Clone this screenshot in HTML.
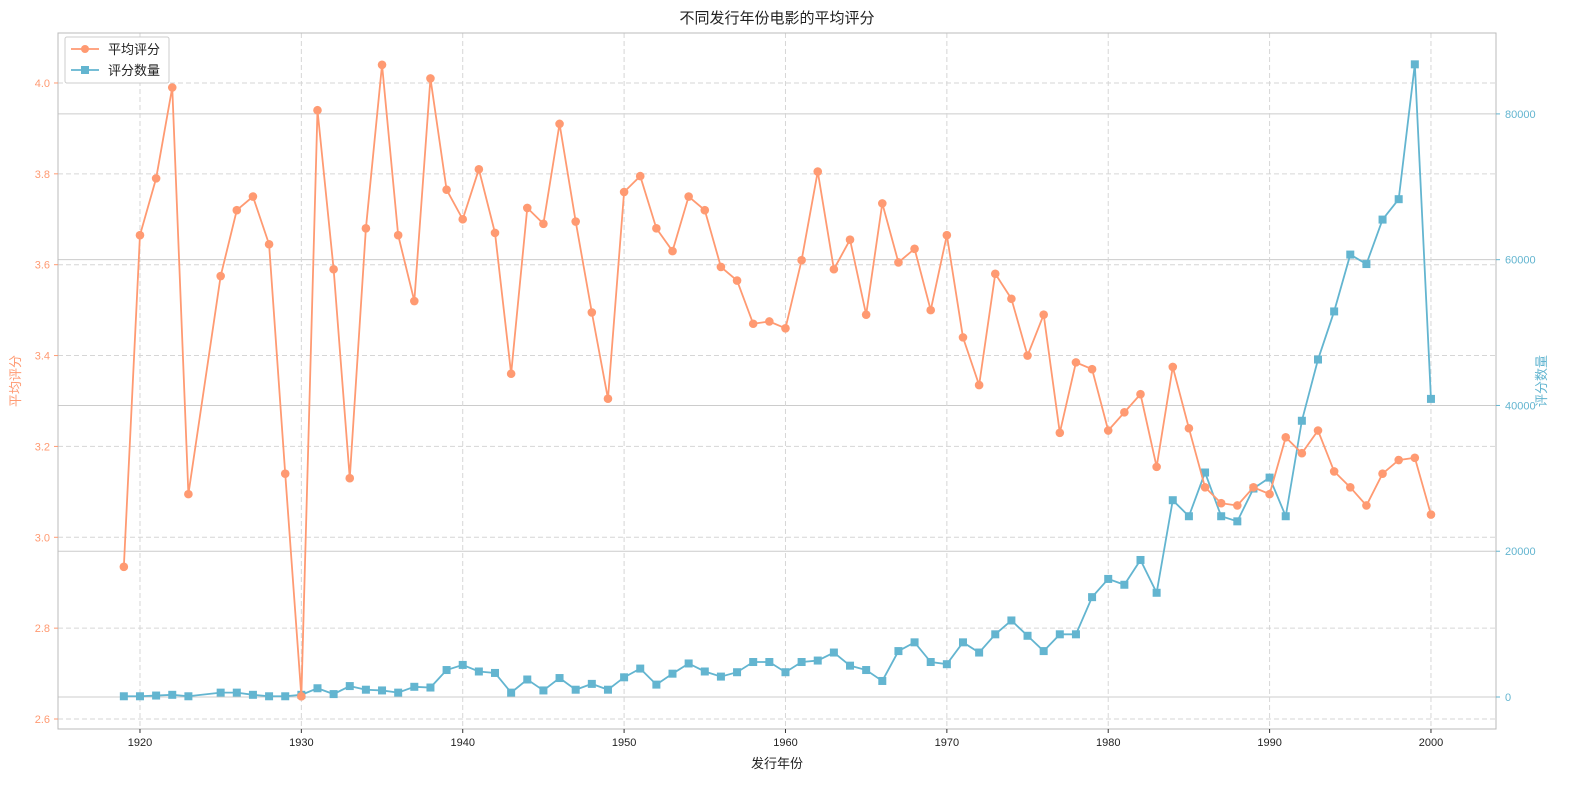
<!DOCTYPE html>
<html><head><meta charset="utf-8">
<style>
body{margin:0;background:#fff;}
svg{display:block;font-family:"Liberation Sans","Noto Sans CJK SC",sans-serif;}
</style></head>
<body>
<svg id="chart" width="1590" height="790" xmlns="http://www.w3.org/2000/svg">
<text x="777" y="23" text-anchor="middle" font-size="15" fill="#222">不同发行年份电影的平均评分</text>
<text x="777" y="768" text-anchor="middle" font-size="13" fill="#222">发行年份</text>
<text transform="translate(20,381) rotate(-90)" text-anchor="middle" font-size="13" fill="#ff9a72">平均评分</text>
<text transform="translate(1546,381) rotate(-90)" text-anchor="middle" font-size="13" fill="#63b5d0">评分数量</text>
<g id="grid"></g>
<g id="plot"></g>
<rect x="58" y="33" width="1438" height="696" fill="none" stroke="#bbb" stroke-width="1"/>
<g id="axes"></g>
<g>
<rect x="65" y="37" width="104" height="46" fill="#fff" stroke="#ccc" rx="2"/>
<line x1="71" y1="49" x2="99" y2="49" stroke="#ff9a72" stroke-width="1.8"/>
<circle cx="85" cy="49" r="4" fill="#ff9a72"/>
<text x="108" y="54" font-size="13" fill="#222">平均评分</text>
<line x1="71" y1="70" x2="99" y2="70" stroke="#63b5d0" stroke-width="1.8"/>
<rect x="81" y="66" width="8" height="8" fill="#63b5d0"/>
<text x="108" y="75" font-size="13" fill="#222">评分数量</text>
</g>
</svg>
<script>
const years=[1919,1920,1921,1922,1923,1925,1926,1927,1928,1929,1930,1931,1932,1933,1934,1935,1936,1937,1938,1939,1940,1941,1942,1943,1944,1945,1946,1947,1948,1949,1950,1951,1952,1953,1954,1955,1956,1957,1958,1959,1960,1961,1962,1963,1964,1965,1966,1967,1968,1969,1970,1971,1972,1973,1974,1975,1976,1977,1978,1979,1980,1981,1982,1983,1984,1985,1986,1987,1988,1989,1990,1991,1992,1993,1994,1995,1996,1997,1998,1999,2000];
const ratings=[2.935,3.665,3.79,3.99,3.095,3.575,3.72,3.75,3.645,3.14,2.65,3.94,3.59,3.13,3.68,4.04,3.665,3.52,4.01,3.765,3.70,3.81,3.67,3.36,3.725,3.69,3.91,3.695,3.495,3.305,3.76,3.795,3.68,3.63,3.75,3.72,3.595,3.565,3.47,3.475,3.46,3.61,3.805,3.59,3.655,3.49,3.735,3.605,3.635,3.50,3.665,3.44,3.335,3.58,3.525,3.40,3.49,3.23,3.385,3.37,3.235,3.275,3.315,3.155,3.375,3.24,3.11,3.075,3.07,3.11,3.095,3.22,3.185,3.235,3.145,3.11,3.07,3.14,3.17,3.175,3.05];
const counts=[100,100,200,300,100,600,600,300,100,100,300,1200,400,1500,1000,900,600,1400,1300,3700,4400,3500,3300,600,2400,900,2600,1000,1800,1000,2700,3900,1700,3200,4600,3500,2800,3400,4800,4800,3400,4800,5000,6100,4300,3700,2200,6300,7500,4800,4500,7500,6100,8600,10500,8400,6300,8600,8600,13700,16200,15400,18800,14300,27000,24800,30800,24800,24100,28600,30100,24800,37900,46300,52900,60700,59400,65500,68300,86800,40900];
const xTicks=[1920,1930,1940,1950,1960,1970,1980,1990,2000];
const leftTicks=[2.6,2.8,3.0,3.2,3.4,3.6,3.8,4.0];
const rightTicks=[0,20000,40000,60000,80000];

const L=58,R=1496,T=33,B=729;
const x=v=>L+(v-1914.92)/(2004.03-1914.92)*(R-L);
const yL=v=>T+(4.11-v)/(4.11-2.578)*(B-T);
const yR=v=>T+(91100-v)/(91100+4390)*(B-T);
const NS="http://www.w3.org/2000/svg";
function mk(tag,attrs,parent){const e=document.createElementNS(NS,tag);for(const k in attrs)e.setAttribute(k,attrs[k]);parent.appendChild(e);return e;}
const grid=document.getElementById('grid'),plot=document.getElementById('plot'),axes=document.getElementById('axes');

rightTicks.forEach(t=>{
  const l=mk('line',{x1:L,x2:R,y1:yR(t),y2:yR(t),stroke:'#cccccc','stroke-width':1},grid);
  
  
  const tk=mk('line',{x1:R,x2:R+4,y1:yR(t),y2:yR(t),stroke:'#63b5d0'},axes);
  
  
  const tx=mk('text',{x:R+9,y:yR(t)+4,'font-size':11,fill:'#63b5d0'},axes);
  tx.textContent=t;
  
  
});
leftTicks.forEach(t=>{
  const l=mk('line',{x1:L,x2:R,y1:yL(t),y2:yL(t),stroke:'#d6d6d6','stroke-dasharray':'5,3'},grid);
  
  
  const tk=mk('line',{x1:L-4,x2:L,y1:yL(t),y2:yL(t),stroke:'#ff9a72'},axes);
  
  
  const tx=mk('text',{x:L-8,y:yL(t)+4,'font-size':11,fill:'#ff9a72','text-anchor':'end'},axes);
  tx.textContent=t.toFixed(1);
  
  
});
xTicks.forEach(t=>{
  const l=mk('line',{x1:x(t),x2:x(t),y1:T,y2:B,stroke:'#d6d6d6','stroke-dasharray':'5,3'},grid);
  
  
  const tk=mk('line',{x1:x(t),x2:x(t),y1:B,y2:B+4,stroke:'#333'},axes);
  
  
  const tx=mk('text',{x:x(t),y:B+17,'font-size':11,fill:'#222','text-anchor':'middle'},axes);
  tx.textContent=t;
  
  
});

const cl=mk('polyline',{points:years.map((yr,i)=>x(yr)+','+yR(counts[i])).join(' '),fill:'none',stroke:'#63b5d0','stroke-width':1.8},plot);


years.forEach((yr,i)=>{
  const m=mk('rect',{x:x(yr)-4,y:yR(counts[i])-4,width:8,height:8,fill:'#63b5d0'},plot);
  
  
});
const rl=mk('polyline',{points:years.map((yr,i)=>x(yr)+','+yL(ratings[i])).join(' '),fill:'none',stroke:'#ff9a72','stroke-width':1.8},plot);


years.forEach((yr,i)=>{
  const m=mk('circle',{cx:x(yr),cy:yL(ratings[i]),r:4.3,fill:'#ff9a72'},plot);
  
  
});
</script>
</body></html>
